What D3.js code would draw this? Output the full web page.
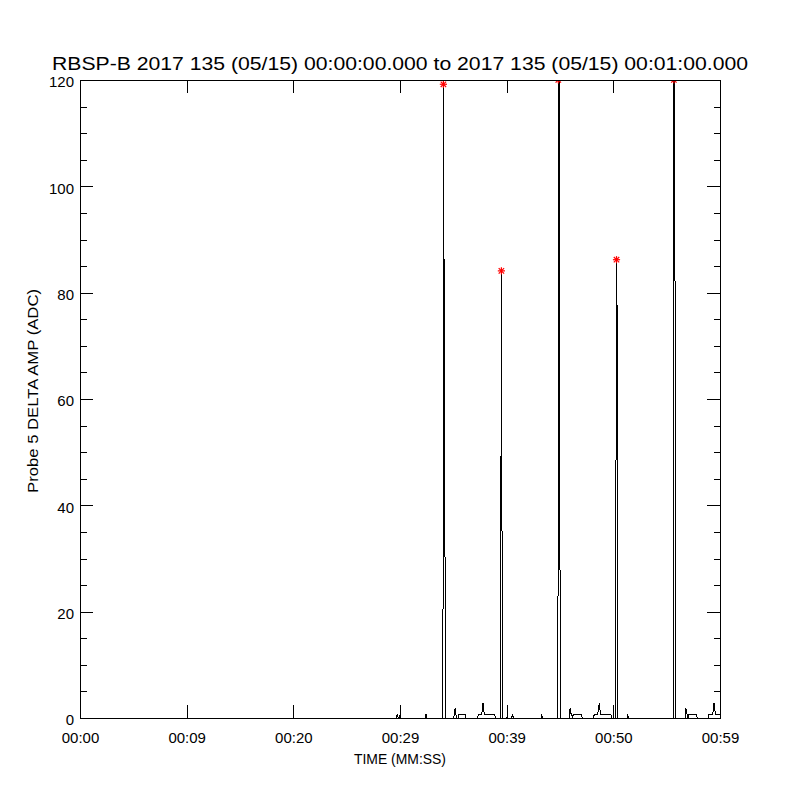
<!DOCTYPE html>
<html>
<head>
<meta charset="utf-8">
<script src="https://cdn.jsdelivr.net/npm/d3@7"></script>
<style>
  html, body { margin: 0; padding: 0; background: #ffffff; }
  svg { display: block; }
  text { font-family: "Liberation Sans", "DejaVu Sans", sans-serif; fill: #000; }
</style>
</head>
<body>
<svg id="chart" width="800" height="800"></svg>
<script>
// ---- data (seconds since 00:00:00, ADC amplitude) ----
const timeSec = [0, 29.625, 29.738, 29.84, 29.99, 30.03, 30.07, 32.34, 32.44, 32.53,
  33.966, 34.028, 34.069, 34.116, 34.216, 34.266,
  35.04, 35.11, 35.16, 35.18, 35.27, 35.34, 35.48, 35.53, 36.09, 36.14,
  37.25, 37.41, 37.64, 37.71, 37.78, 37.83, 37.92, 38.84, 38.97,
  39.403, 39.431, 39.464, 39.506, 39.558, 39.600,
  40.03, 40.06, 40.10, 40.47, 40.55, 40.62, 43.22, 43.25, 43.31, 43.36,
  44.766, 44.810, 44.841, 44.916, 44.995, 45.047,
  45.84, 45.90, 45.94, 45.98, 46.10, 46.17, 46.25, 47.03, 47.08,
  48.12, 48.23, 48.52, 48.59, 48.68, 48.73, 48.83, 49.75, 49.85,
  49.97, 50.00, 50.03, 50.166, 50.247, 50.297, 50.341, 50.391,
  51.31, 51.34, 51.40,
  55.613, 55.678, 55.697, 55.778, 55.828,
  56.72, 56.77, 56.81, 56.85, 56.95, 57.00, 57.04, 57.82, 57.86,
  58.88, 58.97, 59.30, 59.37, 59.44, 59.49, 59.59, 60.00];
const deltaAmp = [0, 0, 0.7, 0, 0, 2.3, 0, 0, 0.7, 0,
  0, 6, 119.2, 91.8, 32.3, 0,
  0, 1.0, 1.8, 1.0, 0.5, 0, 0, 0.75, 0.75, 0,
  0, 0.75, 0.75, 1.3, 2.9, 1.6, 0.75, 0.75, 0,
  0, 1, 42.4, 84.1, 40.8, 0,
  0, 2.4, 0, 0, 0.75, 0, 0, 0.75, 0.3, 0,
  0, 6.6, 122, 121, 31.5, 0,
  0, 1.0, 1.8, 1.0, 0.6, 0, 0.75, 0.75, 0,
  0, 0.75, 0.75, 1.3, 2.9, 1.6, 0.75, 0.75, 0,
  0, 2.4, 0, 0, 43.9, 86.2, 82.5, 0,
  0, 0.75, 0,
  0, 122, 121, 89.6, 0,
  0, 1.0, 1.8, 1.0, 0.6, 0, 0.75, 0.75, 0,
  0, 0.75, 0.75, 1.3, 2.9, 1.6, 0.75, 0.75];

// peak markers (red asterisks)
const peakTime = [34.069, 39.506, 44.841, 50.297, 55.678];
const peakAmp  = [119.2, 84.1, 120, 86.2, 120];

// axes
const yMajorTicks = [0, 20, 40, 60, 80, 100, 120];
const yMinorTicks = [5, 10, 15, 25, 30, 35, 45, 50, 55, 65, 70, 75, 85, 90, 95, 105, 110, 115];
const xTickSec = [0, 10, 20, 30, 40, 50, 60];
const xTickLabels = ["00:00", "00:09", "00:20", "00:29", "00:39", "00:50", "00:59"];

const titleText = "RBSP-B 2017 135 (05/15) 00:00:00.000 to 2017 135 (05/15) 00:01:00.000";
const xTitle = "TIME (MM:SS)";
const yTitle = "Probe 5 DELTA AMP (ADC)";

// ---- layout ----
const L = 80, R = 720, T = 80, B = 718;
const svg = d3.select("#chart");

const x = d3.scaleLinear().domain([0, 60]).range([L, R]);
const y = d3.scaleLinear().domain([0, 120]).range([B, T]);

svg.append("rect").attr("width", 800).attr("height", 800).attr("fill", "#fff");

svg.append("defs").append("clipPath").attr("id", "plotclip")
  .append("rect").attr("x", L).attr("y", T).attr("width", R - L).attr("height", B - T);

// data line
const pts = timeSec.map((t, i) => [t, deltaAmp[i]]);
const line = d3.line().x(d => x(d[0])).y(d => y(d[1]));
svg.append("path")
  .attr("clip-path", "url(#plotclip)")
  .attr("d", line(pts))
  .attr("fill", "none")
  .attr("stroke", "#000")
  .attr("stroke-width", 1)
  .attr("shape-rendering", "crispEdges");

// asterisk markers
const r = 3.6;
const mk = svg.append("g").attr("clip-path", "url(#plotclip)");
peakTime.forEach((t, i) => {
  const cx = x(t), cy = y(peakAmp[i]);
  const segs = [[-r, 0, r, 0], [0, -r, 0, r], [-r * 0.75, -r * 0.75, r * 0.75, r * 0.75], [-r * 0.75, r * 0.75, r * 0.75, -r * 0.75]];
  segs.forEach(s => {
    mk.append("line")
      .attr("x1", cx + s[0]).attr("y1", cy + s[1])
      .attr("x2", cx + s[2]).attr("y2", cy + s[3])
      .attr("stroke", "#ff0000").attr("stroke-width", 1.2);
  });
});

// axes
function styleAxis(g) {
  g.selectAll("path.domain").attr("stroke", "#000").attr("stroke-width", 1).attr("shape-rendering", "crispEdges");
  g.selectAll(".tick line").attr("stroke", "#000").attr("stroke-width", 1).attr("shape-rendering", "crispEdges");
}

const yLeft = svg.append("g").attr("transform", `translate(${L},0)`)
  .call(d3.axisLeft(y).tickValues(yMajorTicks).tickSize(-13).tickSizeOuter(0).tickPadding(6).tickFormat(d3.format("d")));
yLeft.selectAll("text").attr("font-size", 15).attr("dy", "0.45em");
styleAxis(yLeft);
const yLeftMinor = svg.append("g").attr("transform", `translate(${L},0)`)
  .call(d3.axisLeft(y).tickValues(yMinorTicks).tickSize(-6.5).tickSizeOuter(0).tickFormat(""));
yLeftMinor.select("path.domain").remove();
styleAxis(yLeftMinor);

const yRight = svg.append("g").attr("transform", `translate(${R},0)`)
  .call(d3.axisRight(y).tickValues(yMajorTicks).tickSize(-13).tickSizeOuter(0).tickFormat(""));
styleAxis(yRight);
const yRightMinor = svg.append("g").attr("transform", `translate(${R},0)`)
  .call(d3.axisRight(y).tickValues(yMinorTicks).tickSize(-6.5).tickSizeOuter(0).tickFormat(""));
yRightMinor.select("path.domain").remove();
styleAxis(yRightMinor);

const xBottom = svg.append("g").attr("transform", `translate(0,${B})`)
  .call(d3.axisBottom(x).tickValues(xTickSec).tickSize(-13).tickSizeOuter(0).tickPadding(14)
    .tickFormat((d, i) => xTickLabels[i]));
xBottom.selectAll("text").attr("font-size", 15);
styleAxis(xBottom);

const xTop = svg.append("g").attr("transform", `translate(0,${T})`)
  .call(d3.axisTop(x).tickValues(xTickSec).tickSize(-13).tickSizeOuter(0).tickFormat(""));
styleAxis(xTop);

// titles
svg.append("text")
  .attr("x", 400).attr("y", 70)
  .attr("text-anchor", "middle")
  .attr("font-size", 18)
  .attr("textLength", 696).attr("lengthAdjust", "spacingAndGlyphs")
  .text(titleText);

svg.append("text")
  .attr("x", 400).attr("y", 764)
  .attr("text-anchor", "middle")
  .attr("font-size", 14)
  .attr("textLength", 92).attr("lengthAdjust", "spacingAndGlyphs")
  .text(xTitle);

svg.append("text")
  .attr("transform", "translate(38,391) rotate(-90)")
  .attr("text-anchor", "middle")
  .attr("font-size", 14)
  .attr("textLength", 204).attr("lengthAdjust", "spacingAndGlyphs")
  .text(yTitle);
</script>
</body>
</html>
